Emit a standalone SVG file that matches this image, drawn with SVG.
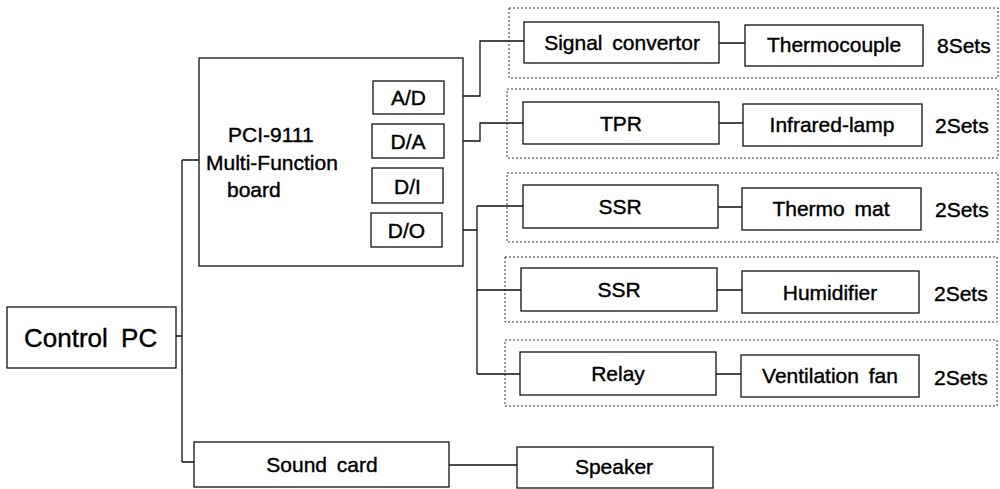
<svg xmlns="http://www.w3.org/2000/svg" width="1000" height="489" viewBox="0 0 1000 489">
<style>
  .box{fill:#fff;stroke:#111;stroke-width:1.3}
  .grp{fill:none;stroke:#333;stroke-width:1;stroke-dasharray:2,2}
  .t{font-family:"Liberation Sans",Arial,sans-serif;font-size:21px;fill:#000;stroke:#000;stroke-width:0.4;text-anchor:middle;word-spacing:4px}
  .ts{font-family:"Liberation Sans",Arial,sans-serif;font-size:21px;fill:#000;stroke:#000;stroke-width:0.4;text-anchor:start}
  .c{fill:none;stroke:#111;stroke-width:1.3}
</style>
<rect width="1000" height="489" fill="#fff"/>
<g id="groups">
  <rect class="grp" x="509" y="8" width="489" height="70"/>
  <rect class="grp" x="507" y="89" width="491" height="69"/>
  <rect class="grp" x="507" y="173" width="491" height="69"/>
  <rect class="grp" x="505" y="257" width="492" height="65"/>
  <rect class="grp" x="505" y="340" width="492" height="66"/>
</g>
<g id="connectors">
  <path class="c" d="M176,336 H182 M182,160 V462 M182,160 H199 M182,462 H194"/>
  <path class="c" d="M449,465 H517"/>
  <path class="c" d="M444,96 H480 V41 H524"/>
  <path class="c" d="M444,141 H480 V123 H523"/>
  <path class="c" d="M442,230 H477 M477,206 V374 M477,206 H523 M477,290 H521 M477,374 H520"/>
  <path class="c" d="M719,43 H745 M719,123 H743 M718,207 H742 M717,290 H742 M716,374 H741"/>
</g>
<g id="control-pc">
  <rect class="box" x="7" y="307" width="169" height="61"/>
  <text class="ts" x="24" y="347" style="font-size:26px;word-spacing:6px">Control PC</text>
</g>
<g id="pci-board">
  <rect class="box" x="199" y="58" width="264" height="208"/>
  <text class="ts" x="228" y="142">PCI-9111</text>
  <text class="ts" x="206" y="170">Multi-Function</text>
  <text class="ts" x="227" y="197">board</text>
</g>
<g id="ad"><rect class="box" x="373" y="81" width="71" height="33"/><text class="t" x="408.5" y="105">A/D</text></g>
<g id="da"><rect class="box" x="372" y="124" width="72" height="34"/><text class="t" x="408" y="149">D/A</text></g>
<g id="di"><rect class="box" x="372" y="168" width="71" height="35"/><text class="t" x="407.5" y="194">D/I</text></g>
<g id="do"><rect class="box" x="371" y="213" width="71" height="34"/><text class="t" x="406.5" y="238">D/O</text></g>
<g id="sound-card"><rect class="box" x="194" y="442" width="255" height="45"/><text class="t" x="322" y="472">Sound card</text></g>
<g id="speaker"><rect class="box" x="517" y="447" width="196" height="41"/><text class="t" x="614" y="474">Speaker</text></g>
<g id="signal-convertor"><rect class="box" x="524" y="22" width="195" height="41"/><text class="t" x="622" y="50">Signal convertor</text></g>
<g id="thermocouple"><rect class="box" x="745" y="25" width="178" height="41"/><text class="t" x="834" y="52">Thermocouple</text></g>
<text class="ts" x="937" y="53">8Sets</text>
<g id="tpr"><rect class="box" x="523" y="102" width="196" height="42"/><text class="t" x="621" y="131">TPR</text></g>
<g id="infrared-lamp"><rect class="box" x="743" y="104" width="179" height="42"/><text class="t" x="832" y="132">Infrared-lamp</text></g>
<text class="ts" x="935" y="133">2Sets</text>
<g id="ssr-1"><rect class="box" x="523" y="185" width="195" height="43"/><text class="t" x="620" y="214">SSR</text></g>
<g id="thermo-mat"><rect class="box" x="742" y="188" width="179" height="42"/><text class="t" x="831" y="216">Thermo mat</text></g>
<text class="ts" x="935" y="217">2Sets</text>
<g id="ssr-2"><rect class="box" x="521" y="268" width="196" height="43"/><text class="t" x="619" y="297">SSR</text></g>
<g id="humidifier"><rect class="box" x="742" y="271" width="177" height="42"/><text class="t" x="830" y="300">Humidifier</text></g>
<text class="ts" x="934" y="301">2Sets</text>
<g id="relay"><rect class="box" x="520" y="352" width="196" height="43"/><text class="t" x="618" y="381">Relay</text></g>
<g id="ventilation-fan"><rect class="box" x="741" y="355" width="178" height="42"/><text class="t" x="830" y="383">Ventilation fan</text></g>
<text class="ts" x="934" y="385">2Sets</text>
</svg>
